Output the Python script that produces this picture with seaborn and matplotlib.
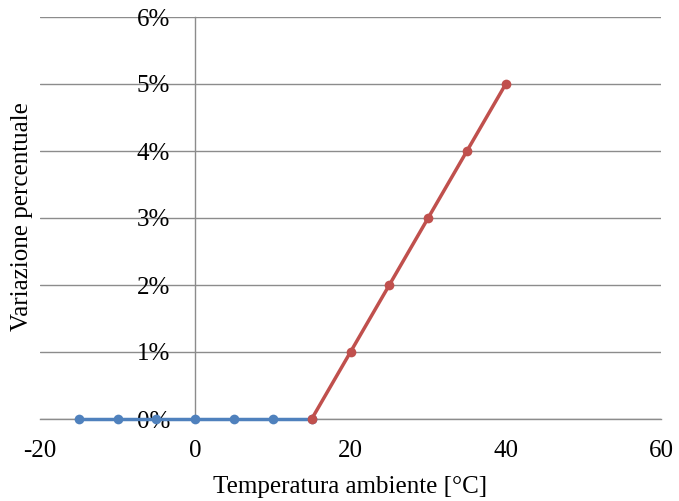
import matplotlib
matplotlib.use("Agg")
import matplotlib.pyplot as plt
import seaborn as sns
import pandas as pd
from matplotlib.ticker import FuncFormatter, MultipleLocator

# dati
temp_freddo = [-15, -10, -5, 0, 5, 10, 15]
var_freddo = [0, 0, 0, 0, 0, 0, 0]
temp_caldo = [15, 20, 25, 30, 35, 40]
var_caldo = [0, 1, 2, 3, 4, 5]

df_freddo = pd.DataFrame({"temp": temp_freddo, "var": var_freddo})
df_caldo = pd.DataFrame({"temp": temp_caldo, "var": var_caldo})

sns.set_style("white")
plt.rcParams["font.family"] = ["Liberation Serif", "DejaVu Serif"]
plt.rcParams["axes.unicode_minus"] = False
plt.rcParams["text.color"] = "black"
plt.rcParams["xtick.color"] = "black"
plt.rcParams["ytick.color"] = "black"

fig = plt.figure(figsize=(6.79, 5.01), dpi=100)
ax = fig.add_axes([40 / 679, 1 - 419 / 501, 621 / 679, 402 / 501])

grigio = "#8c8c8c"
ax.set_xlim(-20, 60)
ax.set_ylim(0, 6)
ax.yaxis.set_major_locator(MultipleLocator(1))
ax.xaxis.set_major_locator(MultipleLocator(20))
ax.yaxis.set_major_formatter(FuncFormatter(lambda v, p: f"{v:.0f}%"))
ax.grid(axis="y", color=grigio, linewidth=1)
ax.set_axisbelow(True)

sns.lineplot(x="temp", y="var", data=df_freddo, color="#4f81bd", linewidth=2.5,
             marker="o", markersize=7, markeredgewidth=0, ax=ax, zorder=3,
             clip_on=False)
sns.lineplot(x="temp", y="var", data=df_caldo, color="#c0504d", linewidth=2.5,
             marker="o", markersize=7, markeredgewidth=0, ax=ax, zorder=4,
             clip_on=False)

for s in ["top", "right"]:
    ax.spines[s].set_visible(False)
ax.spines["left"].set_position(("data", 0))
ax.spines["left"].set_color(grigio)
ax.spines["bottom"].set_color(grigio)
ax.spines["left"].set_linewidth(1)
ax.spines["bottom"].set_linewidth(1)

ax.tick_params(axis="y", length=0, pad=18, labelsize=18)
ax.tick_params(axis="x", length=0, pad=15, labelsize=18)
ax.set_xlabel("")
ax.set_ylabel("")
fig.text(350 / 679, 1 - 487 / 501, "Temperatura ambiente [°C]", fontsize=18,
         ha="center", va="center")
fig.text(22 / 679, 1 - 217 / 501, "Variazione percentuale", fontsize=18,
         ha="center", va="center", rotation=90)

fig.savefig("out.png", dpi=100)
